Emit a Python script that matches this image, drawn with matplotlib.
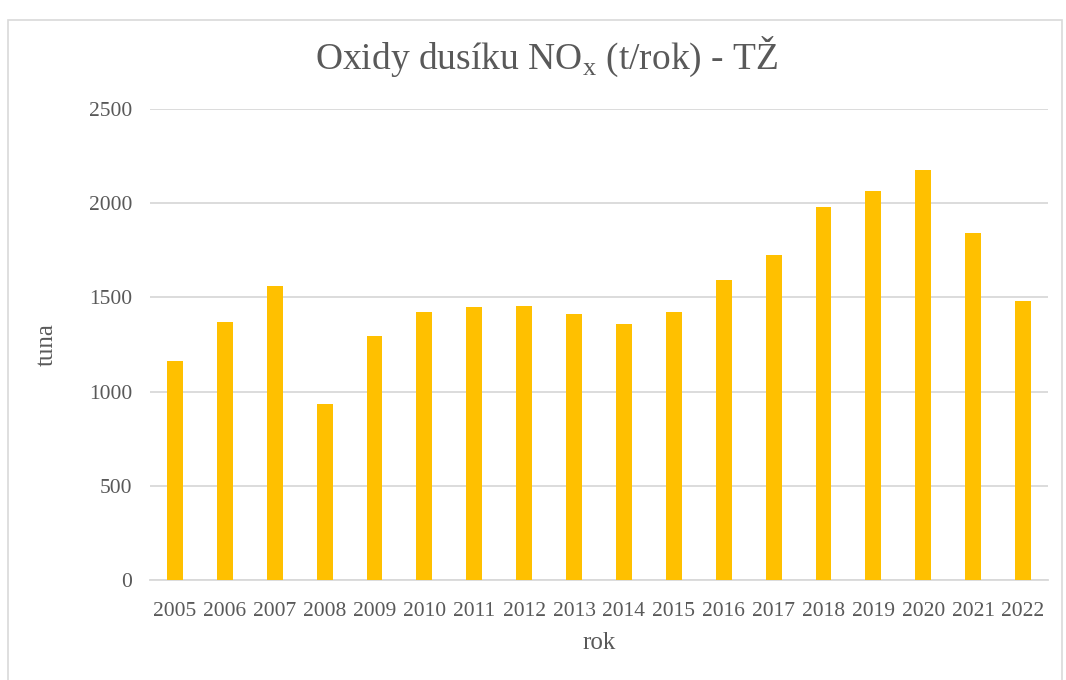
import matplotlib.pyplot as plt
from matplotlib.patches import Rectangle

roky = ["2005", "2006", "2007", "2008", "2009", "2010", "2011", "2012", "2013",
        "2014", "2015", "2016", "2017", "2018", "2019", "2020", "2021", "2022"]
nox = [1161, 1368, 1563, 933, 1296, 1423, 1450, 1453, 1411,
       1359, 1421, 1595, 1726, 1980, 2067, 2175, 1841, 1480]
y_ticks = [0, 500, 1000, 1500, 2000, 2500]

plt.rcParams['font.family'] = ['Liberation Serif', 'DejaVu Serif']
plt.rcParams['mathtext.fontset'] = 'custom'
plt.rcParams['mathtext.rm'] = 'Liberation Serif'

seda = "#595959"
mrizka = "#d9d9d9"

fig = plt.figure(figsize=(10.66, 6.8), dpi=100)
ax = fig.add_axes([150 / 1066, 100 / 680, 898 / 1066, 471 / 680])

x = range(len(roky))
ax.bar(x, nox, width=0.32, color="#FFC000", zorder=3)

ax.set_xlim(-0.5, len(roky) - 0.5)
ax.set_ylim(0, 2500)
ax.set_yticks(y_ticks)
ax.set_xticks(list(x))
ax.set_xticklabels(roky)
ax.tick_params(length=0, labelsize=15.5, colors=seda)
ax.tick_params(axis='x', pad=16)
ax.tick_params(axis='y', pad=13)
ax.grid(axis='y', color=mrizka, linewidth=1.3, zorder=0)
for s in ['top', 'right', 'left']:
    ax.spines[s].set_visible(False)
ax.spines['bottom'].set_color(mrizka)
ax.spines['bottom'].set_linewidth(1.3)

ax.set_xlabel("rok", fontsize=18, color=seda, labelpad=8)
ax.set_ylabel("tuna", fontsize=18, color=seda, labelpad=22)
fig.text(547 / 1066, 1 - 57 / 680, r"Oxidy dusíku NO$_\mathrm{x}$ (t/rok) - TŽ",
         ha='center', va='center', fontsize=27, color=seda)

# ramecek grafu
fig.patches.append(Rectangle((8 / 1066, -0.05), 1054 / 1066, 1.05 - 20 / 680,
                             transform=fig.transFigure, fill=False,
                             edgecolor=mrizka, linewidth=1.2))

fig.savefig("out.png", dpi=100)
